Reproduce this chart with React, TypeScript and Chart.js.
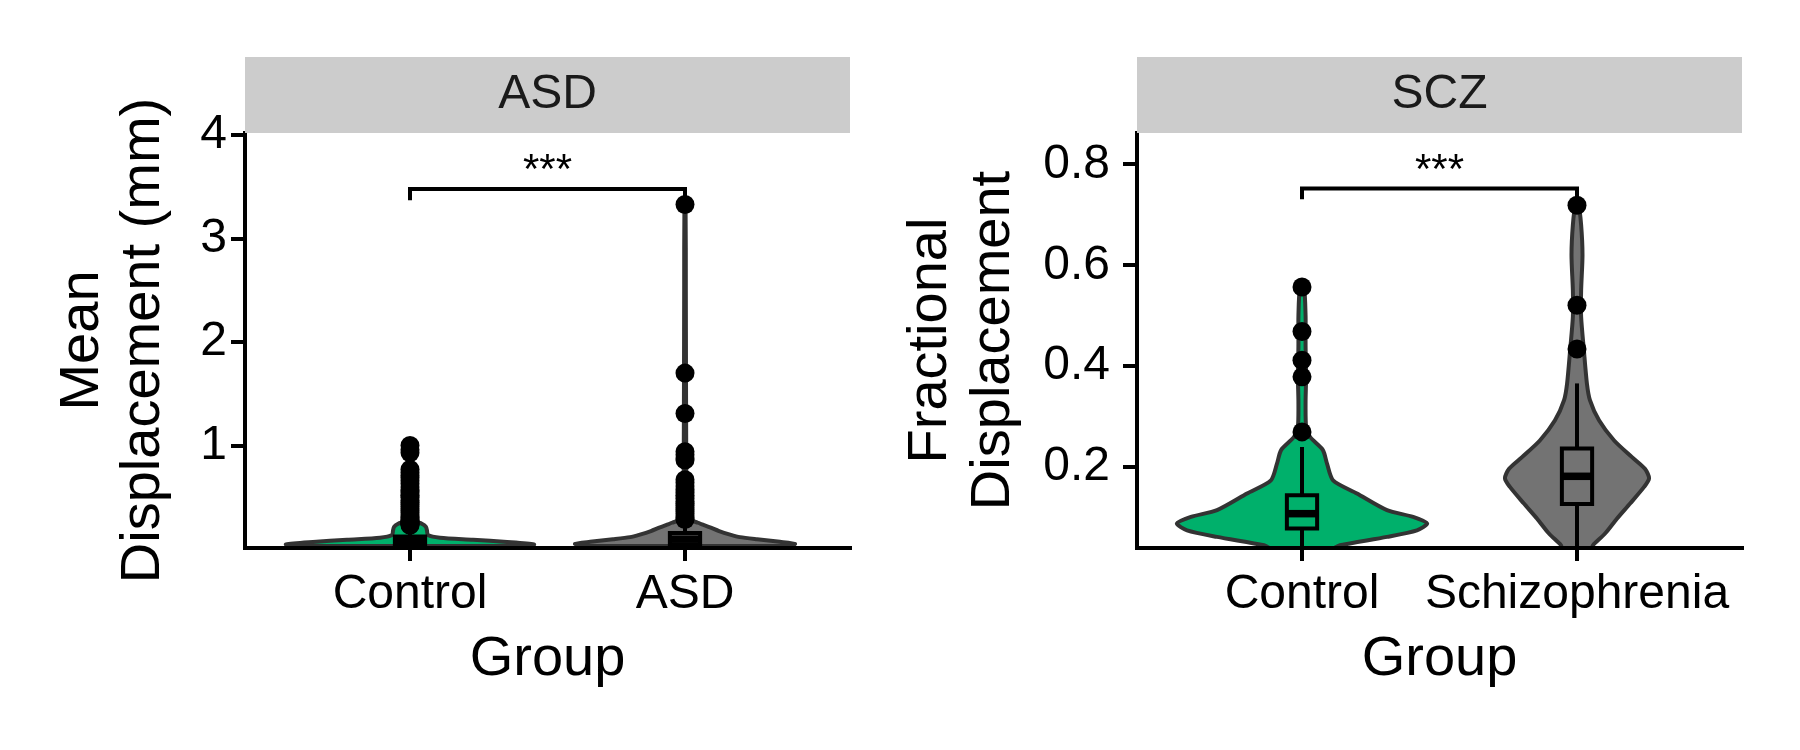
import React, { useEffect, useRef } from 'react';
import { Chart, registerables } from 'chart.js';

Chart.register(...registerables);

const FONT = "'Liberation Sans', Arial, Helvetica, sans-serif";
const GREEN = '#00B06B';
const GREY = '#737373';
const OUTLINE = '#333333';
const LW = 4;

// ---------- Facet 1: ASD ----------
const asdCategories = ['Control', 'ASD'];
const asdYTicks = [1, 2, 3, 4];
const asdYTitle = ['Mean', 'Displacement (mm)'];
const asdStrip = 'ASD';

const asdControlViolinY = [0.03, 0.045, 0.068, 0.09, 0.109, 0.135, 0.174, 0.215, 0.245, 0.27, 0.35, 0.6, 0.85, 1.0];
const asdControlViolinW = [0.429, 0.451, 0.353, 0.229, 0.109, 0.065, 0.062, 0.058, 0.043, 0.018, 0.0055, 0.004, 0.003, 0.002];
const asdGroupViolinY = [0.03, 0.05, 0.07, 0.094, 0.115, 0.14, 0.174, 0.21, 0.235, 0.254, 0.275, 0.3, 0.5, 1.0, 1.7, 2.5, 3.33];
const asdGroupViolinW = [0.364, 0.4, 0.345, 0.262, 0.2, 0.164, 0.124, 0.091, 0.065, 0.047, 0.025, 0.008, 0.0055, 0.0044, 0.0036, 0.003, 0.002];

// [lower whisker, q1, median, q3, upper whisker]
const asdControlBox = [0.03, 0.04, 0.08, 0.12, 0.22];
const asdGroupBox = [0.03, 0.04, 0.095, 0.155, 0.28];

const asdControlOutliers = [1.0, 0.96, 0.93, 0.77, 0.74, 0.71, 0.69, 0.66, 0.63, 0.6, 0.57, 0.55, 0.52, 0.5, 0.47, 0.45, 0.43, 0.41, 0.39, 0.37, 0.35, 0.33, 0.31, 0.3, 0.28, 0.27, 0.26, 0.25, 0.24, 0.23];
const asdGroupOutliers = [3.33, 1.7, 1.31, 0.94, 0.91, 0.88, 0.86, 0.67, 0.64, 0.61, 0.58, 0.55, 0.52, 0.49, 0.46, 0.44, 0.42, 0.4, 0.38, 0.36, 0.34, 0.32, 0.3, 0.285];

const asdBracket = [3.37, 3.48]; // [tip, bar]
const asdSignif = '***';

// ---------- Facet 2: SCZ ----------
const sczCategories = ['Control', 'Schizophrenia'];
const sczYTicks = [0.2, 0.4, 0.6, 0.8];
const sczYTitle = ['Fractional', 'Displacement'];
const sczStrip = 'SCZ';

const sczControlViolinY = [0.04, 0.0455, 0.062, 0.075, 0.0885, 0.1016, 0.115, 0.148, 0.174, 0.207, 0.234, 0.26, 0.28, 0.33, 0.38, 0.44, 0.5, 0.557];
const sczControlViolinW = [0.116, 0.138, 0.309, 0.418, 0.455, 0.404, 0.309, 0.2, 0.113, 0.091, 0.076, 0.029, 0.015, 0.013, 0.015, 0.013, 0.013, 0.007];
const sczGroupViolinY = [0.04, 0.0455, 0.0687, 0.098, 0.128, 0.161, 0.178, 0.197, 0.22, 0.253, 0.293, 0.333, 0.366, 0.432, 0.498, 0.55, 0.62, 0.68, 0.72];
const sczGroupViolinW = [0.055, 0.058, 0.102, 0.145, 0.193, 0.244, 0.262, 0.247, 0.2, 0.135, 0.08, 0.047, 0.036, 0.025, 0.015, 0.015, 0.02, 0.015, 0.0055];

const sczControlBox = [0.04, 0.0786, 0.108, 0.1446, 0.24];
const sczGroupBox = [0.04, 0.127, 0.182, 0.237, 0.366];

const sczControlOutliers = [0.557, 0.469, 0.412, 0.379, 0.27];
const sczGroupOutliers = [0.719, 0.521, 0.434];

const sczBracket = [0.731, 0.752];
const sczSignif = '***';

// ---------- helpers ----------
const BOX_HALF = 0.055;

type Group = { vy: number[]; vw: number[]; box: number[]; outliers: number[]; fill: string };

function buildDatasets(groups: Group[], bracket: number[]) {
  const ds: any[] = [];
  groups.forEach((g, i) => {
    const c = i + 1;
    const right = g.vy.map((y, k) => ({ x: c + g.vw[k], y }));
    const left = g.vy.map((y, k) => ({ x: c - g.vw[k], y })).reverse();
    const poly = [...right, ...left, { ...right[0] }];
    ds.push({
      data: poly, borderColor: OUTLINE, borderWidth: LW, backgroundColor: g.fill,
      fill: 'shape', pointRadius: 0, tension: 0.25, order: 6, borderJoinStyle: 'round', borderCapStyle: 'round',
    });
    const [lo, q1, med, q3, hi] = g.box;
    ds.push({ data: [{ x: c, y: q3 }, { x: c, y: hi }], borderColor: '#000', borderWidth: LW, pointRadius: 0, fill: false, order: 5 });
    ds.push({ data: [{ x: c, y: lo }, { x: c, y: q1 }], borderColor: '#000', borderWidth: LW, pointRadius: 0, fill: false, order: 5 });
    ds.push({
      data: [
        { x: c - BOX_HALF, y: q1 }, { x: c + BOX_HALF, y: q1 }, { x: c + BOX_HALF, y: q3 },
        { x: c - BOX_HALF, y: q3 }, { x: c - BOX_HALF, y: q1 },
      ],
      borderColor: '#000', borderWidth: LW, backgroundColor: g.fill, fill: 'shape',
      pointRadius: 0, tension: 0, order: 4, borderCapStyle: 'square', borderJoinStyle: 'miter',
    });
    ds.push({ data: [{ x: c - BOX_HALF, y: med }, { x: c + BOX_HALF, y: med }], borderColor: '#000', borderWidth: 7.5, pointRadius: 0, fill: false, order: 3 });
    ds.push({
      data: g.outliers.map((y) => ({ x: c, y })), showLine: false, pointRadius: 9.5,
      pointBackgroundColor: '#000', pointBorderWidth: 0, pointBorderColor: '#000', order: 2,
    });
  });
  ds.push({
    data: [{ x: 1, y: bracket[0] }, { x: 1, y: bracket[1] }, { x: 2, y: bracket[1] }, { x: 2, y: bracket[0] }],
    borderColor: '#000', borderWidth: LW, pointRadius: 0, fill: false, tension: 0, order: 1,
  });
  return ds;
}

const facetPlugin = {
  id: 'facet',
  afterDraw(chart: any, _args: any, opts: any) {
    const { ctx, chartArea } = chart;
    const xs = chart.scales.x;
    const ys = chart.scales.y;
    ctx.save();
    // strip
    const stripH = 76;
    const top = chartArea.top - stripH;
    ctx.fillStyle = '#CCCCCC';
    ctx.fillRect(chartArea.left, top, chartArea.right - chartArea.left, stripH);
    ctx.fillStyle = '#1A1A1A';
    ctx.font = `48px ${FONT}`;
    ctx.textAlign = 'center';
    ctx.textBaseline = 'middle';
    ctx.fillText(opts.strip, (chartArea.left + chartArea.right) / 2, top + stripH / 2);
    // significance label
    const py = ys.getPixelForValue(opts.bracketY);
    ctx.fillStyle = '#000';
    ctx.font = `42px ${FONT}`;
    ctx.textBaseline = 'alphabetic';
    ctx.fillText(opts.signif, (xs.getPixelForValue(1) + xs.getPixelForValue(2)) / 2, py - 6);
    // y title
    ctx.font = `56px ${FONT}`;
    ctx.textBaseline = 'middle';
    const cy = (chartArea.top + chartArea.bottom) / 2;
    opts.yTitle.forEach((line: string, i: number) => {
      ctx.save();
      ctx.translate(opts.yTitleX[i], cy);
      ctx.rotate(-Math.PI / 2);
      ctx.fillText(line, 0, 0);
      ctx.restore();
    });
    ctx.restore();
  },
};

function makeConfig(p: {
  groups: Group[]; bracket: number[]; cats: string[]; yTicks: number[]; yMin: number; yMax: number;
  yWidth: number; padRight: number; tickPad: number; strip: string; signif: string; yTitle: string[]; yTitleX: number[];
}) {
  return {
    type: 'line',
    data: { datasets: buildDatasets(p.groups, p.bracket) },
    options: {
      responsive: false,
      animation: false,
      devicePixelRatio: 1,
      events: [],
      layout: { padding: { left: 0, top: 133, right: p.padRight, bottom: 0 } },
      plugins: {
        legend: { display: false },
        tooltip: { enabled: false },
        facet: { strip: p.strip, signif: p.signif, bracketY: p.bracket[1], yTitle: p.yTitle, yTitleX: p.yTitleX },
      },
      scales: {
        x: {
          type: 'linear', min: 0.4, max: 2.6,
          afterBuildTicks: (s: any) => { s.ticks = p.cats.map((_, i) => ({ value: i + 1 })); },
          ticks: {
            color: '#000', font: { family: FONT, size: 48, lineHeight: 1.2 }, padding: 5,
            maxRotation: 0, autoSkip: false,
            callback: (v: any) => p.cats[Math.round(Number(v)) - 1],
          },
          grid: { display: true, drawOnChartArea: false, drawTicks: true, tickLength: 13, color: '#000', lineWidth: LW },
          border: { display: true, color: '#000', width: LW, z: 1 },
          title: { display: true, text: 'Group', color: '#000', font: { family: FONT, size: 56, lineHeight: 1.2 }, padding: { top: 0, bottom: 57 } },
          afterFit: (s: any) => { s.height = 202; },
        },
        y: {
          type: 'linear', min: p.yMin, max: p.yMax,
          afterBuildTicks: (s: any) => { s.ticks = p.yTicks.map((v) => ({ value: v })); },
          ticks: {
            color: '#000', font: { family: FONT, size: 48, lineHeight: 1.2 }, padding: p.tickPad,
            callback: (v: any) => { const t = p.yTicks.find((x) => Math.abs(x - Number(v)) < 1e-9); return t === undefined ? '' : String(t); },
          },
          grid: { display: true, drawOnChartArea: false, drawTicks: true, tickLength: 14, color: '#000', lineWidth: LW },
          border: { display: true, color: '#000', width: LW, z: 1 },
          title: { display: false },
          afterFit: (s: any) => { s.width = p.yWidth; },
        },
      },
    },
    plugins: [facetPlugin],
  };
}

export default function App() {
  const ref1 = useRef<HTMLCanvasElement>(null);
  const ref2 = useRef<HTMLCanvasElement>(null);

  useEffect(() => {
    const c1 = new Chart(ref1.current as HTMLCanvasElement, makeConfig({
      groups: [
        { vy: asdControlViolinY, vw: asdControlViolinW, box: asdControlBox, outliers: asdControlOutliers, fill: GREEN },
        { vy: asdGroupViolinY, vw: asdGroupViolinW, box: asdGroupBox, outliers: asdGroupOutliers, fill: GREY },
      ],
      bracket: asdBracket, cats: asdCategories, yTicks: asdYTicks, yMin: 0.01, yMax: 4.02,
      yWidth: 245, padRight: 50, tickPad: 4, strip: asdStrip, signif: asdSignif,
      yTitle: asdYTitle, yTitleX: [82.6, 143.6],
    }) as any);
    const c2 = new Chart(ref2.current as HTMLCanvasElement, makeConfig({
      groups: [
        { vy: sczControlViolinY, vw: sczControlViolinW, box: sczControlBox, outliers: sczControlOutliers, fill: GREEN },
        { vy: sczGroupViolinY, vw: sczGroupViolinW, box: sczGroupBox, outliers: sczGroupOutliers, fill: GREY },
      ],
      bracket: sczBracket, cats: sczCategories, yTicks: sczYTicks, yMin: 0.04, yMax: 0.862,
      yWidth: 257, padRight: 58, tickPad: 13, strip: sczStrip, signif: sczSignif,
      yTitle: sczYTitle, yTitleX: [50.6, 113.6],
    }) as any);
    return () => { c1.destroy(); c2.destroy(); };
  }, []);

  return (
    <div style={{ position: 'absolute', left: 0, top: 0, width: 1800, height: 750, background: '#fff' }}>
      <canvas ref={ref1} width={900} height={750} style={{ position: 'absolute', left: 0, top: 0, width: 900, height: 750 }} />
      <canvas ref={ref2} width={920} height={750} style={{ position: 'absolute', left: 880, top: 0, width: 920, height: 750 }} />
    </div>
  );
}
